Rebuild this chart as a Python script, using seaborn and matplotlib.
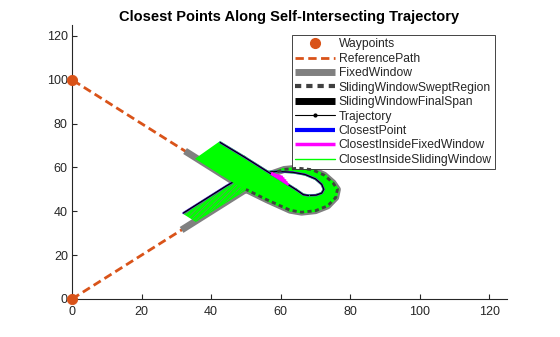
import matplotlib
matplotlib.use("Agg")
import matplotlib.pyplot as plt
import seaborn as sns
from matplotlib.lines import Line2D

# ---------------- data ----------------
wp_x = [0, 0]
wp_y = [0, 100]

# reference path (self-intersecting loop)
ref_x = [0, 35.6, 42, 48, 53, 57, 61, 65, 69, 72.5, 75, 76.3, 75.8, 73.5, 70, 66, 62.7, 56, 50, 43, 36, 0]
ref_y = [0, 35.6, 42, 48, 53, 56.9, 59.1, 59.7, 59, 56.5, 53, 50, 46.3, 42.5, 40.3, 39.6, 40.5, 45.3, 50, 57, 64, 100]

# trajectory samples, paired with reference points ref[1:-1]
traj_x = [32, 38.4, 44.4, 49.5, 54, 59, 63.5, 67, 70, 71.8, 72.4, 71.8, 70.2, 68, 66.5, 64.5, 60, 56.5, 49.5, 42.6]
traj_y = [39.2, 45.6, 51.6, 56.3, 57.7, 58.2, 57.8, 56.8, 54.8, 52.3, 50, 48.3, 47.4, 47.2, 47.6, 49.8, 54.3, 57.8, 64.8, 71.4]

# fixed window ends along the reference
fw_start = (31.5, 31.5)
fw_end = (32.5, 67.5)

# closest-inside-fixed-window segments near the top of the loop
cf_from_x = [57.3, 57.3, 57.3, 57.3, 57.3]
cf_from_y = [57.3, 57.3, 57.3, 57.3, 57.3]
cf_to_x = [60.6, 61.0, 61.5, 61.9, 62.3]
cf_to_y = [55.6, 54.8, 53.9, 53.0, 52.1]

# ---------------- style ----------------
sns.set_theme(style="white")
plt.rcParams["font.family"] = ["Liberation Sans", "DejaVu Sans"]
plt.rcParams["hatch.linewidth"] = 0.5

ORANGE = "#D95319"
GREEN = "#00FF00"
GRAY = "#808080"
DGRAY = "#404040"
TXT = "#262626"

fig = plt.figure(figsize=(5.6, 3.37), dpi=100)
ax = fig.add_axes([0.1286, 0.1128, 0.7764, 0.8130])

ref_band_x = ref_x[1:-1]
ref_band_y = ref_y[1:-1]
n = len(traj_x)
SPLIT = 13  # where the trajectory leaves the loop and crosses back

# reference path
sns.lineplot(x=ref_x, y=ref_y, sort=False, estimator=None, color=ORANGE,
             lw=2, ax=ax, zorder=1)
ax.lines[-1].set_linestyle((0, (3, 1.6)))

# fixed window (gray thick)
fw_x = [fw_start[0]] + ref_band_x + [fw_end[0]]
fw_y = [fw_start[1]] + ref_band_y + [fw_end[1]]
sns.lineplot(x=fw_x, y=fw_y, sort=False, estimator=None, color=GRAY,
             lw=5, ax=ax, zorder=2)
ax.lines[-1].set_solid_capstyle("butt")


def quad(i, z, hatch=None):
    qx = [traj_x[i], traj_x[i + 1], ref_band_x[i + 1], ref_band_x[i]]
    qy = [traj_y[i], traj_y[i + 1], ref_band_y[i + 1], ref_band_y[i]]
    if hatch:
        ax.fill(qx, qy, facecolor=GREEN, edgecolor=GREEN, lw=1.2, zorder=z)
        ax.fill(qx, qy, facecolor="none", edgecolor="#6a8f6a", hatch=hatch, lw=0, zorder=z)
    else:
        ax.fill(qx, qy, facecolor=GREEN, edgecolor=GREEN, lw=1.8, zorder=z)


# first part of the sliding-window region (lower arm + loop)
for i in range(0, SPLIT):
    quad(i, 3, hatch="//////" if i < 3 else None)

# first part of trajectory
sns.lineplot(x=traj_x[:SPLIT + 1], y=traj_y[:SPLIT + 1], sort=False, estimator=None,
             color="#7030FF", lw=1.6, ax=ax, zorder=4)
sns.lineplot(x=traj_x[:SPLIT + 1], y=traj_y[:SPLIT + 1], sort=False, estimator=None,
             color="black", lw=0.9, ax=ax, zorder=4.1)

# second part (crossing back to the upper arm) drawn on top
for i in range(SPLIT, n - 1):
    quad(i, 5)

# sliding window swept region (dotted dark gray) around the loop
sns.lineplot(x=ref_band_x[4:18], y=ref_band_y[4:18], sort=False, estimator=None,
             color=DGRAY, lw=2, ax=ax, zorder=6)
ax.lines[-1].set_linestyle((0, (1.5, 1.2)))

# second part of trajectory
sns.lineplot(x=traj_x[SPLIT:], y=traj_y[SPLIT:], sort=False, estimator=None,
             color="#7030FF", lw=1.6, ax=ax, zorder=7)
sns.lineplot(x=traj_x[SPLIT:], y=traj_y[SPLIT:], sort=False, estimator=None,
             color="black", lw=0.9, ax=ax, zorder=7.1)

# closest inside fixed window (magenta)
for fx, fy, tx, ty in zip(cf_from_x, cf_from_y, cf_to_x, cf_to_y):
    ax.plot([fx, tx], [fy, ty], color="#FF00FF", lw=1.8, zorder=7.5,
            solid_capstyle="butt")

# waypoints
sns.scatterplot(x=wp_x, y=wp_y, color=ORANGE, s=55, edgecolor=ORANGE,
                ax=ax, zorder=10, clip_on=False)

# ---------------- axes ----------------
ax.set_xlim(0, 125)
ax.set_ylim(0, 125)
ax.set_xticks(range(0, 121, 20))
ax.set_yticks(range(0, 121, 20))
for s in ["top", "right"]:
    ax.spines[s].set_visible(False)
for s in ["left", "bottom"]:
    ax.spines[s].set_color(TXT)
    ax.spines[s].set_linewidth(0.8)
ax.tick_params(direction="in", length=3.5, width=0.8, colors=TXT, labelsize=9,
               left=True, bottom=True)
ax.tick_params(axis="x", pad=5)
ax.tick_params(axis="y", pad=3)
ax.set_title("Closest Points Along Self-Intersecting Trajectory",
             fontsize=10.5, fontweight="bold", color="black", pad=3)

handles = [
    Line2D([], [], ls="none", marker="o", color=ORANGE, markersize=7),
    Line2D([], [], ls=(0, (3, 1.6)), color=ORANGE, lw=2),
    Line2D([], [], color=GRAY, lw=5, solid_capstyle="butt"),
    Line2D([], [], ls=(0, (1.5, 1.2)), color=DGRAY, lw=3),
    Line2D([], [], color="black", lw=5, solid_capstyle="butt"),
    Line2D([], [], color="black", lw=0.8, marker=".", markersize=4),
    Line2D([], [], color="#0000FF", lw=3, solid_capstyle="butt"),
    Line2D([], [], color="#FF00FF", lw=2.5, solid_capstyle="butt"),
    Line2D([], [], color=GREEN, lw=1),
]
labels = ["Waypoints", "ReferencePath", "FixedWindow", "SlidingWindowSweptRegion",
          "SlidingWindowFinalSpan", "Trajectory", "ClosestPoint",
          "ClosestInsideFixedWindow", "ClosestInsideSlidingWindow"]
leg = ax.legend(handles, labels, loc="upper right", bbox_to_anchor=(0.972, 0.962),
                fontsize=8.7, frameon=True, fancybox=False, framealpha=1,
                edgecolor=TXT, handlelength=3.3, handletextpad=0.3,
                labelspacing=0.2, borderpad=0.25, borderaxespad=0)
leg.get_frame().set_linewidth(0.6)
for t in leg.get_texts():
    t.set_color(TXT)

fig.savefig("out.png", dpi=100)
